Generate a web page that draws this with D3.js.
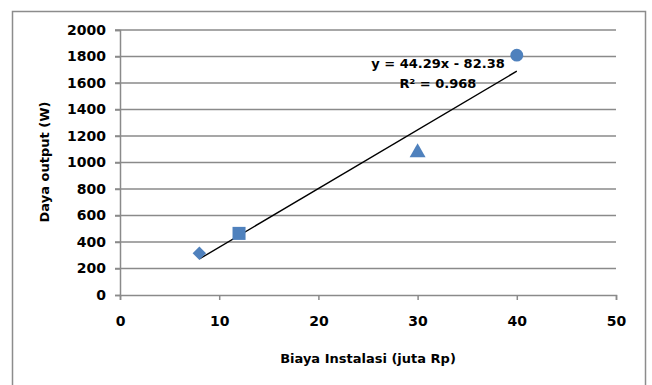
<!DOCTYPE html>
<html>
<head>
<meta charset="utf-8">
<script src="https://cdn.jsdelivr.net/npm/d3@7"></script>
<style>
  body { margin: 0; background: #fff; }
  text { font-family: "DejaVu Sans", sans-serif; font-weight: bold; fill: #000; }
</style>
</head>
<body>
<div id="chart"></div>
<script>
var biaya = [8, 12, 30, 40];
var daya = [315, 465, 1075, 1810];
var shapes = ["diamond", "square", "triangle", "circle"];
var xTicks = [0, 10, 20, 30, 40, 50];
var yTicks = [0, 200, 400, 600, 800, 1000, 1200, 1400, 1600, 1800, 2000];
var slope = 44.29, intercept = -82.38;

var W = 652, H = 385;
var margin = { top: 30, right: 36, bottom: 90, left: 120 },
    width = 616 - margin.left,
    height = 295 - margin.top;

var svg = d3.select("#chart").append("svg")
    .attr("width", W).attr("height", H);

// outer chart frame
svg.append("rect")
    .attr("x", 12.5).attr("y", 11.5)
    .attr("width", 633).attr("height", 390)
    .attr("fill", "none").attr("stroke", "#8c8c8c").attr("stroke-width", 1.5);

var g = svg.append("g")
    .attr("transform", "translate(" + margin.left + "," + margin.top + ")");

var x = d3.scaleLinear().domain([0, 50]).range([0, width]);
var y = d3.scaleLinear().domain([0, 2000]).range([height, 0]);

// gridlines
g.selectAll(".grid").data(yTicks.slice(1)).enter().append("line")
    .attr("x1", -5).attr("x2", width)
    .attr("y1", function (d) { return y(d); })
    .attr("y2", function (d) { return y(d); })
    .attr("stroke", "#8a8a8a").attr("stroke-width", 1.5);

// y axis
var yAxis = g.append("g")
    .call(d3.axisLeft(y).tickValues(yTicks).tickFormat(d3.format("d")).tickSize(5).tickPadding(9));
yAxis.select(".domain").attr("stroke", "#8a8a8a").attr("stroke-width", 1.5);
yAxis.selectAll(".tick line").attr("stroke", "#8a8a8a").attr("stroke-width", 1.5);
yAxis.selectAll("text").style("font-size", "14px").attr("font-family", null);

// x axis
var xAxis = g.append("g")
    .attr("transform", "translate(0," + height + ")")
    .call(d3.axisBottom(x).tickValues(xTicks).tickFormat(d3.format("d")).tickSize(5).tickPadding(16));
xAxis.select(".domain").attr("stroke", "#8a8a8a").attr("stroke-width", 1.5);
xAxis.selectAll(".tick line").attr("stroke", "#8a8a8a").attr("stroke-width", 1.5);
xAxis.selectAll("text").style("font-size", "14px").attr("font-family", null);

// trendline
var trend = d3.line()
    .x(function (d) { return x(d); })
    .y(function (d) { return y(slope * d + intercept); });
g.append("path")
    .attr("d", trend(d3.extent(biaya)))
    .attr("fill", "none").attr("stroke", "#000").attr("stroke-width", 1.4);

// markers (diamond = square turned 45deg)
var symMap = {
    diamond: { type: d3.symbolSquare, size: 90, rot: 45 },
    square: { type: d3.symbolSquare, size: 170, rot: 0 },
    triangle: { type: d3.symbolTriangle, size: 110, rot: 0 },
    circle: { type: d3.symbolCircle, size: 130, rot: 0 }
};
g.selectAll(".pt").data(biaya).enter().append("path")
    .attr("transform", function (d, i) {
        return "translate(" + x(d) + "," + y(daya[i]) + ") rotate(" + symMap[shapes[i]].rot + ")";
    })
    .attr("d", function (d, i) {
        var s = symMap[shapes[i]];
        return d3.symbol().type(s.type).size(s.size)();
    })
    .attr("fill", "#4f81bd");

// equation
g.append("text")
    .attr("x", 318).attr("y", 38)
    .attr("text-anchor", "middle")
    .style("font-size", "13px")
    .text("y = 44.29x - 82.38");
g.append("text")
    .attr("x", 318).attr("y", 58)
    .attr("text-anchor", "middle")
    .style("font-size", "13px")
    .text("R² = 0.968");

// axis titles
svg.append("text")
    .attr("x", 368).attr("y", 363)
    .attr("text-anchor", "middle")
    .style("font-size", "13px")
    .text("Biaya Instalasi (juta Rp)");
svg.append("text")
    .attr("transform", "translate(49,162) rotate(-90)")
    .attr("text-anchor", "middle")
    .style("font-size", "13px")
    .text("Daya output (W)");
</script>
</body>
</html>
